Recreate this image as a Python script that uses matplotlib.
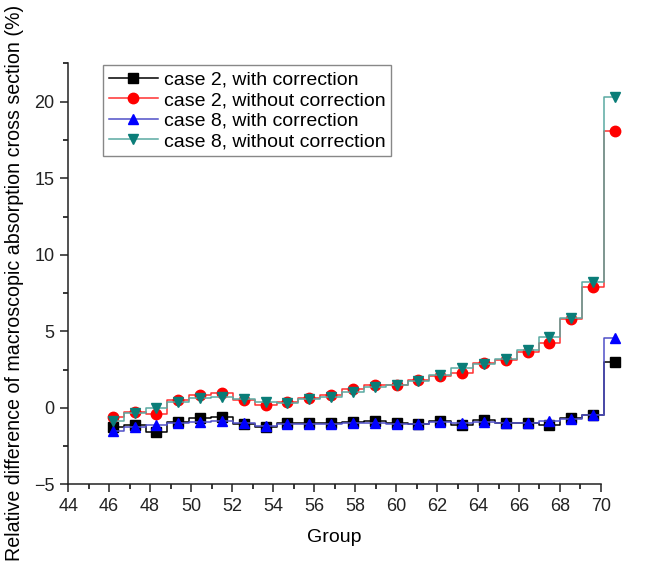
import numpy as np
import matplotlib.pyplot as plt
from matplotlib.ticker import MultipleLocator

plt.rcParams['font.family'] = ['Liberation Sans', 'DejaVu Sans']

# energy groups and relative differences (%)
groups = np.arange(46, 70)
case2_corr = [-1.26, -1.11, -1.55, -0.89, -0.67, -0.61, -1.04, -1.26, -1.0, -1.0, -1.0, -0.89,
              -0.83, -1.0, -1.04, -0.83, -1.11, -0.78, -0.96, -0.96, -1.11, -0.67, -0.45, 3.0]
case2_nocorr = [-0.57, -0.24, -0.39, 0.52, 0.85, 0.96, 0.52, 0.2, 0.41, 0.63, 0.85, 1.22,
                1.5, 1.5, 1.83, 2.09, 2.3, 2.92, 3.13, 3.68, 4.26, 5.79, 7.9, 18.1]
case8_corr = [-1.48, -1.22, -1.11, -0.96, -0.89, -0.83, -1.0, -1.17, -1.04, -1.04, -1.04, -0.96,
              -0.96, -1.04, -1.04, -0.89, -0.96, -0.89, -1.0, -0.96, -0.83, -0.74, -0.46, 4.55]
case8_nocorr = [-0.83, -0.35, -0.02, 0.41, 0.63, 0.74, 0.57, 0.41, 0.3, 0.57, 0.74, 1.07,
                1.35, 1.5, 1.78, 2.15, 2.59, 2.87, 3.18, 3.79, 4.61, 5.85, 8.25, 20.3]

fig = plt.figure(figsize=(6.49, 5.72), dpi=100)
ax = fig.add_axes([0.105, 0.153, 0.821, 0.736])

# data layer on its own x scale, drawn unclipped
ax2 = ax.twiny()
ax2.set_xlim(43.955, 68.36)
ax2.set_ylim(-5, 22.5)
ax2.axis('off')

series = [
    (case2_corr, 'case 2, with correction', 's', 'black', 'black'),
    (case2_nocorr, 'case 2, without correction', 'o', 'red', '#ff3030'),
    (case8_corr, 'case 8, with correction', '^', 'blue', '#5050c8'),
    (case8_nocorr, 'case 8, without correction', 'v', '#0a7d78', '#5aaaa2'),
]
handles = []
for vals, lab, mk, mc, lc in series:
    ax2.plot(groups, vals, drawstyle='steps-mid', color=lc, lw=1.1, clip_on=False)
    ax2.plot(groups, vals, ls='none', marker=mk, ms=7.5, mfc=mc, mec=mc, clip_on=False)
    h, = ax.plot([], [], color=lc, lw=1.1, marker=mk, ms=7.5, mfc=mc, mec=mc, label=lab)
    handles.append(h)

ax.set_xlim(44, 70)
ax.set_ylim(-5, 22.5)
ax.xaxis.set_major_locator(MultipleLocator(2))
ax.xaxis.set_minor_locator(MultipleLocator(1))
ax.yaxis.set_major_locator(MultipleLocator(5))
ax.yaxis.set_minor_locator(MultipleLocator(2.5))
ax.tick_params(which='major', direction='out', length=6, width=1.1, labelsize=13,
               colors='#222222', pad=4)
ax.tick_params(which='minor', direction='out', length=3.5, width=1.1)
for s in ['top', 'right']:
    ax.spines[s].set_visible(False)
for s in ['left', 'bottom']:
    ax.spines[s].set_linewidth(1.1)
    ax.spines[s].set_color('#222222')

ax.set_xlabel('Group', fontsize=14, labelpad=10)
ax.set_ylabel('Relative difference of macroscopic absorption cross section (%)', fontsize=14.1)
ax.yaxis.set_label_coords(-0.082, 0.479)

leg = ax.legend(handles=handles, loc='upper left', bbox_to_anchor=(0.066, 0.996), borderaxespad=0,
                fontsize=14, fancybox=False, edgecolor='#888888', framealpha=1,
                handlelength=2.5, labelspacing=0.15, handletextpad=0.3, borderpad=0.3)
leg.get_frame().set_linewidth(1.0)

fig.savefig('out.png', dpi=100)
